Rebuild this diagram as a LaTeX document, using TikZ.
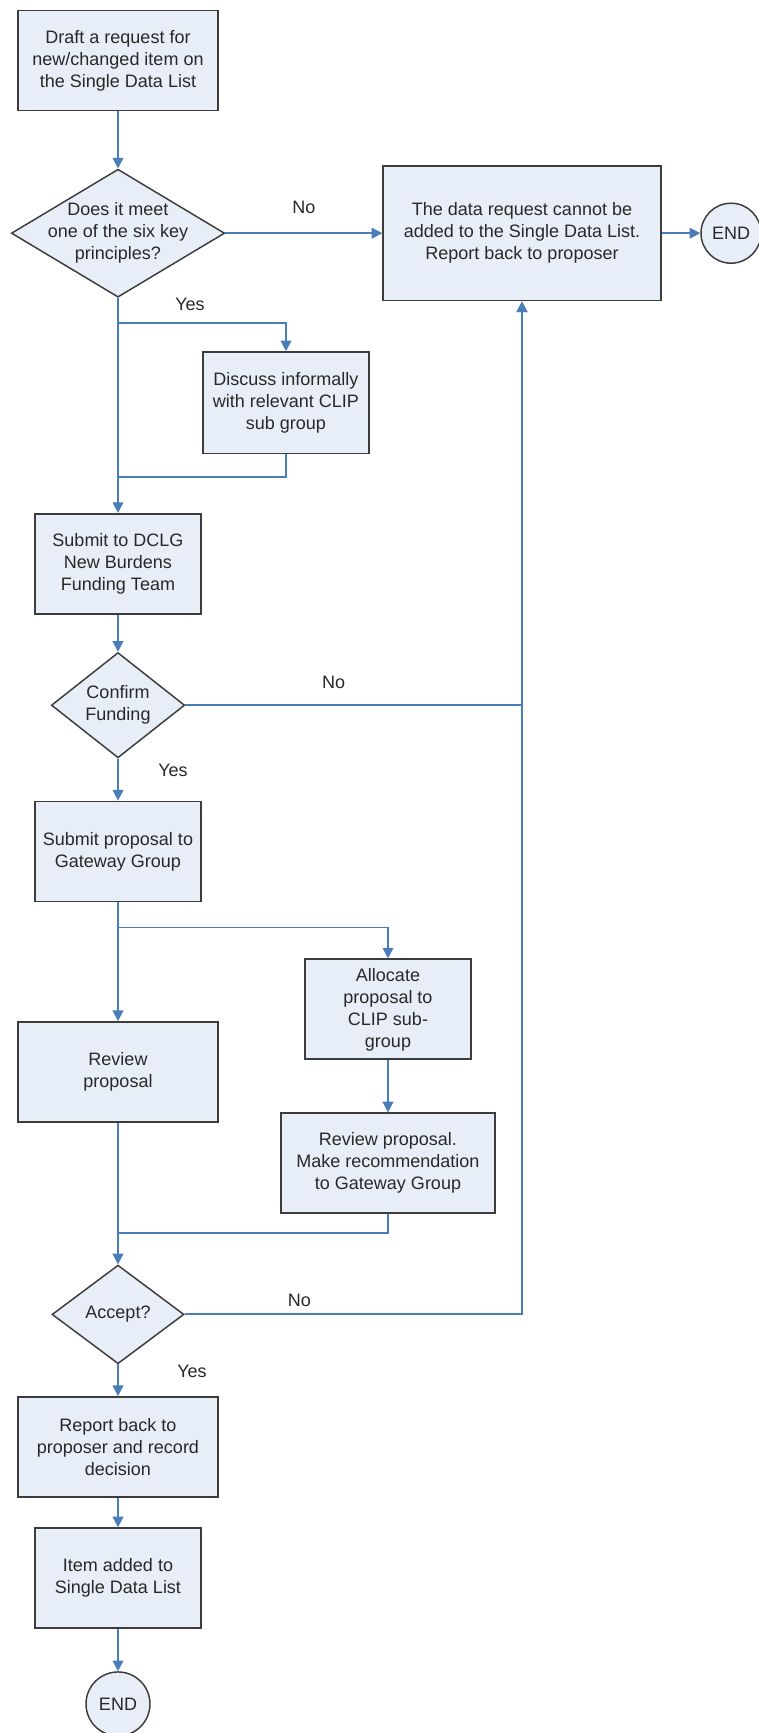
\documentclass[tikz,border=0pt]{standalone}
\usepackage{fontspec}
\setmainfont{Liberation Sans}
\usepackage{tikz}
\usetikzlibrary{positioning, shapes.geometric, arrows.meta}
\definecolor{flowblue}{RGB}{74,126,187}
\definecolor{boxfill}{RGB}{232,238,247}
\definecolor{boxline}{RGB}{60,60,60}
\definecolor{inktext}{RGB}{40,40,40}

\begin{document}
\begin{tikzpicture}[
  font=\fontsize{13.5pt}{16.5pt}\selectfont,
  box/.style={rectangle, draw=boxline, line width=1.4pt, fill=boxfill, align=center,
              text=inktext, inner sep=2pt, minimum width=124pt, minimum height=75pt},
  wide/.style={box, minimum width=150pt},
  decision/.style={diamond, draw=boxline, line width=1.1pt, fill=boxfill, inner sep=0pt},
  qtext/.style={align=center, text=inktext},
  endnode/.style={circle, draw=boxline, line width=1.1pt, fill=boxfill, minimum size=48pt,
                  inner sep=0pt, text=inktext},
  note/.style={text=inktext},
  arrow/.style={-{Triangle[length=8pt, width=8pt]}, line width=1.4pt, flowblue},
  link/.style={line width=1.4pt, flowblue}
]

% Canvas
\useasboundingbox (0,0) rectangle (569.25pt,-1299.75pt);

% Main column
\node[wide] (draft) at (88.5pt,-45.4pt) {Draft a request for\\new/changed item on\\the Single Data List};
\node[decision, minimum width=160pt, minimum height=96pt, below=42.75pt of draft,
      label={[qtext]center:Does it meet\\one of the six key\\principles?}] (meet) {};
\node[box, below=161.25pt of meet] (submit) {Submit to DCLG\\New Burdens\\Funding Team};
\node[decision, minimum width=100pt, minimum height=79pt, below=27.75pt of submit,
      label={[qtext]center:Confirm\\Funding}] (fund) {};
\node[box, below=31.5pt of fund] (gateway) {Submit proposal to\\Gateway Group};
\node[wide, below=89pt of gateway] (review) {Review\\proposal};
\node[decision, minimum width=99pt, minimum height=74pt, below=106pt of review,
      label={[qtext]center:Accept?}] (accept) {};
\node[wide, below=23.75pt of accept] (report) {Report back to\\proposer and record\\decision};
\node[box, below=22pt of report] (item) {Item added to\\Single Data List};
\node[endnode, below=31.5pt of item] (end2) {END};

% Rejection branch
\node[box, minimum width=208pt, minimum height=101pt, right=117.75pt of meet] (reject)
  {The data request cannot be\\added to the Single Data List.\\Report back to proposer};
\node[endnode, minimum size=45pt, right=29pt of reject] (end1) {END};

% Side boxes
\node[box, minimum height=76pt, anchor=north] (discuss) at ([xshift=126pt,yshift=-40pt]meet.south)
  {Discuss informally\\with relevant CLIP\\sub group};
\node[box, anchor=north] (allocate) at ([xshift=202.5pt,yshift=-42pt]gateway.south)
  {Allocate\\proposal to\\CLIP sub-\\group};
\node[box, minimum width=160pt, below=39pt of allocate] (recommend)
  {Review proposal.\\Make recommendation\\to Gateway Group};

% Split and join points
\coordinate (split1) at ([yshift=-18.75pt]meet.south);
\coordinate (join1) at ([yshift=27pt]submit.north);
\coordinate (split2) at ([yshift=-18.75pt]gateway.south);
\coordinate (join2) at ([yshift=23.25pt]accept.north);

% Arrows: top decision
\draw[arrow] (draft) -- (meet);
\draw[arrow] (meet) -- node[note, yshift=19.5pt] {No} (reject);
\draw[arrow] (reject) -- (end1);
\draw[arrow] (meet) -- node[note, pos=0.03, xshift=54pt] {Yes} (submit);
\draw[arrow] (split1) -| (discuss);
\draw[link] (discuss) |- (join1);

% Arrows: funding
\draw[arrow] (submit) -- (fund);
\draw[arrow] (fund) -| node[note, pos=0.22, yshift=17.25pt] {No} (reject);
\draw[arrow] (fund) -- node[note, pos=0.28, xshift=41.25pt] {Yes} (gateway);

% Arrows: review
\draw[arrow] (gateway) -- (review);
\draw[arrow] (split2) -| (allocate);
\draw[arrow] (allocate) -- (recommend);
\draw[arrow] (review) -- (accept);
\draw[link] (recommend) |- (join2);

% Arrows: accept
\draw[arrow] (accept) -| node[note, pos=0.17, yshift=10.5pt] {No} (reject);
\draw[arrow] (accept) -- node[note, pos=0.23, xshift=55.5pt] {Yes} (report);
\draw[arrow] (report) -- (item);
\draw[arrow] (item) -- (end2);

\end{tikzpicture}
\end{document}
